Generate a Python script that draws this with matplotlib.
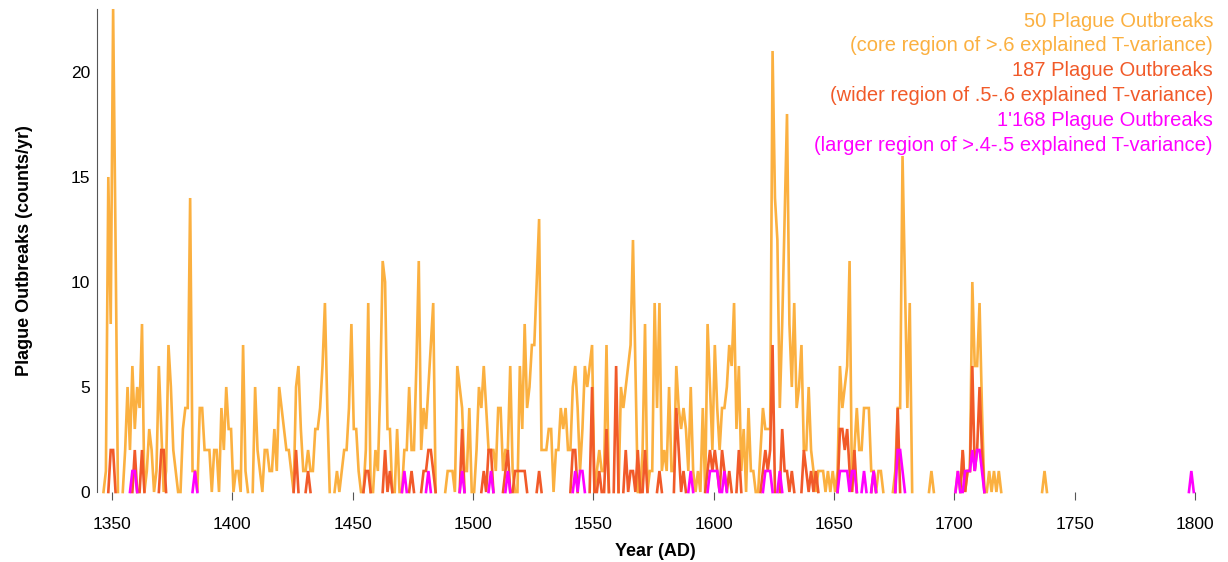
import numpy as np
import matplotlib
matplotlib.use("Agg")
import matplotlib.pyplot as plt

plt.rcParams['font.family'] = ['Liberation Sans', 'DejaVu Sans']

# Yearly outbreak counts, first year 1347
start_year = 1347
core_counts = [
    1, 15, 8, 23, 12, 0, 0, 0, 2, 5,            # 1347-1356
    2, 6, 3, 5, 4, 8, 0, 1, 3, 2,               # 1357-1366
    0, 1, 6, 3, 0, 1, 7, 5, 2, 1,               # 1367-1376
    0, 0, 3, 4, 4, 14, 1, 1, 0, 4,              # 1377-1386
    4, 2, 2, 2, 0, 2, 2, 0, 4, 2,               # 1387-1396
    5, 3, 3, 0, 1, 1, 0, 7, 1, 0,               # 1397-1406
    0, 0, 5, 2, 1, 0, 2, 2, 1, 1,               # 1407-1416
    3, 1, 5, 4, 3, 2, 2, 1, 0, 5,               # 1417-1426
    6, 3, 1, 1, 2, 1, 1, 3, 3, 4,               # 1427-1436
    6, 9, 4, 0, 0, 0, 1, 0, 1, 2,               # 1437-1446
    2, 4, 8, 3, 3, 1, 0, 0, 2, 9,               # 1447-1456
    0, 0, 2, 1, 5, 11, 10, 3, 3, 0,             # 1457-1466
    0, 3, 0, 0, 2, 2, 5, 2, 2, 6,               # 1467-1476
    11, 2, 4, 3, 5, 7, 9, 0, 0, 0,              # 1477-1486
    0, 0, 1, 1, 1, 0, 6, 5, 4, 1,               # 1487-1496
    1, 4, 0, 0, 2, 5, 4, 6, 4, 2,               # 1497-1506
    2, 2, 1, 4, 4, 1, 2, 2, 6, 1,               # 1507-1516
    0, 0, 6, 3, 8, 4, 5, 7, 7, 10,              # 1517-1526
    13, 2, 2, 2, 3, 3, 0, 2, 2, 4,              # 1527-1536
    3, 4, 2, 2, 5, 6, 4, 1, 3, 6,               # 1537-1546
    5, 6, 7, 0, 1, 2, 1, 1, 7, 0,               # 1547-1556
    0, 0, 0, 0, 5, 4, 5, 6, 7, 12,              # 1557-1566
    6, 0, 0, 2, 8, 0, 1, 1, 9, 4,               # 1567-1576
    9, 1, 2, 1, 5, 1, 1, 6, 4, 3,               # 1577-1586
    4, 3, 1, 5, 1, 0, 1, 0, 4, 0,               # 1587-1596
    8, 5, 2, 7, 4, 2, 4, 4, 5, 7,               # 1597-1606
    6, 9, 3, 6, 1, 3, 0, 4, 1, 1,               # 1607-1616
    0, 0, 2, 4, 3, 3, 3, 21, 14, 12,            # 1617-1626
    4, 8, 13, 18, 8, 5, 9, 4, 5, 7,             # 1627-1636
    2, 2, 5, 2, 1, 0, 1, 1, 1, 0,               # 1637-1646
    1, 0, 1, 0, 1, 6, 4, 5, 6, 11,              # 1647-1656
    0, 2, 4, 2, 2, 4, 4, 4, 1, 1,               # 1657-1666
    0, 1, 1, 0, 0, 0, 0, 0, 1, 4,               # 1667-1676
    4, 16, 10, 4, 9, 0, 0, 0, 0, 0,             # 1677-1686
    0, 0, 0, 1, 0, 0, 0, 0, 0, 0,               # 1687-1696
    0, 0, 0, 0, 1, 0, 2, 0, 1, 1,               # 1697-1706
    10, 6, 6, 9, 4, 0, 0, 1, 0, 1,              # 1707-1716
    0, 1, 0, 0, 0, 0, 0, 0, 0, 0,               # 1717-1726
    0, 0, 0, 0, 0, 0, 0, 0, 0, 0,               # 1727-1736
    1, 0,                                       # 1737-1738
]

# Non-zero years of the wider and larger regions
wider_years = [1349, 1350, 1359, 1362, 1370, 1371, 1426, 1431, 1455, 1456,
               1463, 1465, 1474, 1479, 1480, 1481, 1482, 1483, 1495, 1504,
               1506, 1507, 1513, 1514, 1517, 1518, 1519, 1520, 1521, 1527,
               1541, 1542, 1549, 1552, 1555, 1559, 1563, 1565, 1566, 1568,
               1571, 1577, 1584, 1585, 1587, 1597, 1598, 1599, 1600, 1601,
               1603, 1604, 1606, 1610, 1620, 1621, 1622, 1623, 1624, 1628,
               1629, 1630, 1632, 1637, 1638, 1640, 1642, 1652, 1653, 1654,
               1655, 1656, 1658, 1666, 1676, 1703, 1705, 1706, 1707, 1708,
               1709, 1710, 1711]
wider_counts = [2, 2, 2, 2, 2, 2, 2, 1, 1, 1,
                2, 1, 1, 1, 1, 2, 2, 1, 3, 1,
                2, 2, 1, 2, 1, 1, 1, 1, 1, 1,
                2, 2, 5, 1, 3, 6, 2, 1, 1, 2,
                2, 1, 4, 2, 1, 1, 2, 1, 2, 1,
                2, 1, 1, 2, 1, 2, 1, 2, 7, 3,
                1, 1, 1, 2, 1, 1, 1, 3, 3, 2,
                3, 1, 2, 1, 4, 2, 1, 1, 6, 1,
                2, 5, 2]

larger_years = [1358, 1359, 1384, 1471, 1481, 1495, 1507, 1514, 1542, 1544,
                1545, 1590, 1598, 1599, 1600, 1601, 1604, 1621, 1622, 1623,
                1627, 1652, 1653, 1654, 1655, 1657, 1658, 1662, 1666, 1676,
                1677, 1678, 1701, 1704, 1705, 1706, 1707, 1708, 1709, 1710,
                1711, 1798]
larger_counts = [1, 1, 1, 1, 1, 1, 1, 1, 1, 1,
                 1, 1, 1, 1, 1, 1, 1, 1, 1, 1,
                 1, 1, 1, 1, 1, 1, 1, 1, 1, 2,
                 2, 1, 1, 1, 1, 1, 2, 1, 2, 2,
                 1, 1]

legend_lines = [
    ("50 Plague Outbreaks", "#FBB040"),
    ("(core region of >.6 explained T-variance)", "#FBB040"),
    ("187 Plague Outbreaks", "#F15A29"),
    ("(wider region of .5-.6 explained T-variance)", "#F15A29"),
    ("1'168 Plague Outbreaks", "#FF00FF"),
    ("(larger region of >.4-.5 explained T-variance)", "#FF00FF"),
]

first, last = 1340, 1810
years = np.arange(first, last + 1)
mid_year = years + 0.5          # each yearly count drawn at the middle of its year


def full_series(yrs, vals):
    s = np.zeros(len(years))
    for y, v in zip(yrs, vals):
        s[y - first] = v
    return s


def mask_quiet(series):
    # hide zero years whose neighbours are zero as well
    s = series.astype(float)
    nz = s > 0
    keep = nz.copy()
    keep[1:] |= nz[:-1]
    keep[:-1] |= nz[1:]
    return np.ma.masked_where(~keep, s)


core = full_series(range(start_year, start_year + len(core_counts)), core_counts)
wider = full_series(wider_years, wider_counts)
larger = full_series(larger_years, larger_counts)

fig = plt.figure(figsize=(12.28, 5.62), dpi=100)
ax = fig.add_axes([97 / 1228, 1 - 492 / 562, 1116 / 1228, 483 / 562])

for series, (_, color) in zip([core, wider, larger],
                              [legend_lines[0], legend_lines[2], legend_lines[4]]):
    ax.plot(mid_year, mask_quiet(series), color=color, lw=1.9,
            solid_joinstyle='miter', clip_on=False)

ax.set_xlim(1343.8, 1807.5)
ax.set_ylim(0, 23)
ax.set_xticks(np.arange(1350, 1801, 50))
ax.set_yticks([0, 5, 10, 15, 20])

for side in ['top', 'right', 'bottom']:
    ax.spines[side].set_visible(False)
ax.spines['left'].set_color('#555555')
ax.spines['left'].set_linewidth(0.8)
ax.tick_params(axis='x', direction='out', length=6, width=0.8,
               color='#555555', labelsize=12.5, pad=12)
ax.tick_params(axis='y', length=0, pad=5, labelsize=12.5)

ax.set_xlabel("Year (AD)", fontsize=13, fontweight='bold', labelpad=8)
ax.set_ylabel("Plague Outbreaks (counts/yr)", fontsize=13, fontweight='bold',
              labelpad=27)

for i, (txt, color) in enumerate(legend_lines):
    ax.text(1.0, 0.975 - i * 24.8 / 483, txt, transform=ax.transAxes,
            ha='right', va='center', fontsize=14.5, color=color)

fig.savefig("out.png", dpi=100)
